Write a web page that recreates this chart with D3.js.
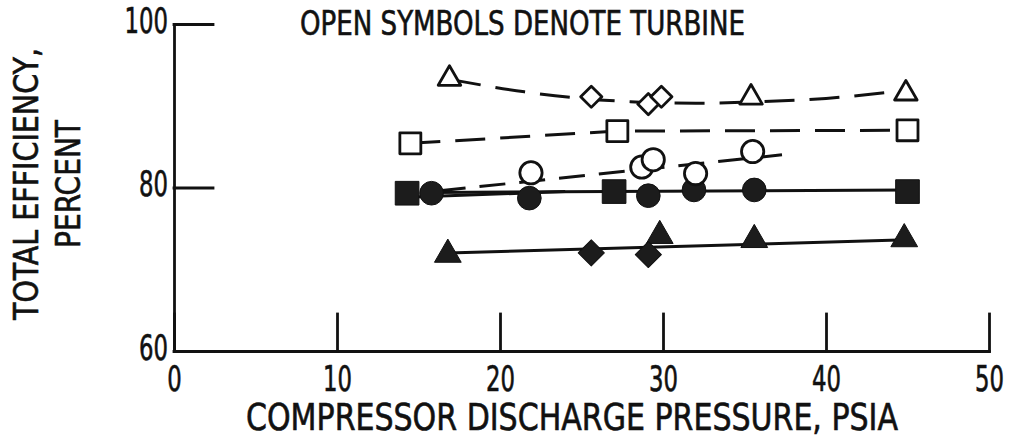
<!DOCTYPE html>
<html>
<head>
<meta charset="utf-8">
<script src="https://cdn.jsdelivr.net/npm/d3@7"></script>
<style>
  body { margin: 0; background: #fff; }
  text { font-family: 'DejaVu Sans Condensed', 'Liberation Sans Narrow', sans-serif; fill: #111; stroke: #111; stroke-width: 0.6px; }
</style>
</head>
<body>
<div id="chart"></div>
<script>
// points (x = psia, y = percent)
const openTriangleX = [16.9, 35.4, 44.9];
const openTriangleY = [93.3, 91.0, 91.5];
const openDiamondX = [25.6, 29.1, 29.9];
const openDiamondY = [91.1, 90.2, 91.1];
const openSquareX = [14.5, 27.2, 45.0];
const openSquareY = [85.4, 86.9, 87.0];
const openCircleX = [21.9, 28.7, 29.4, 32.0, 35.5];
const openCircleY = [81.8, 82.5, 83.4, 81.7, 84.4];

const filledSquareX = [14.3, 27.0, 45.0];
const filledSquareY = [79.3, 79.5, 79.5];
const filledCircleX = [15.8, 21.8, 29.1, 31.9, 35.6];
const filledCircleY = [79.3, 78.7, 79.0, 79.7, 79.7];
const filledTriangleX = [16.8, 29.8, 35.6, 44.8];
const filledTriangleY = [71.8, 74.1, 73.6, 73.7];
const filledDiamondX = [25.6, 29.1];
const filledDiamondY = [72.0, 71.8];

// faired curves drawn on the figure
const dashTopX = [17.0, 21.5, 25.0, 28.0, 32.0, 36.0, 40.0, 45.0];
const dashTopY = [93.2, 91.7, 90.9, 90.5, 90.3, 90.5, 90.9, 91.9];
const dashSquareX = [14.5, 27.2, 45.0];
const dashSquareY = [85.4, 86.9, 87.0];
const dashCircleX = [16.3, 37.3];
const dashCircleY = [79.6, 84.0];
const solidUpperX = [15.8, 45.0];
const solidUpperY = [79.4, 79.7];
const solidLowerX = [14.3, 24.0];
const solidLowerY = [78.8, 79.5];
const solidTriX = [16.8, 45.0];
const solidTriY = [72.0, 73.6];

const xTicks = [0, 10, 20, 30, 40, 50];
const yTicks = [60, 80, 100];

const zip = (xs, ys) => xs.map((x, i) => [x, ys[i]]);

const svg = d3.select('#chart').append('svg')
  .attr('width', 1011)
  .attr('height', 438)

svg.append('rect')
  .attr('width', 1011)
  .attr('height', 438)
  .attr('fill', '#fff')

const x_scale = d3.scaleLinear()
  .domain([0, 50])
  .range([174, 989])

const y_scale = d3.scaleLinear()
  .domain([60, 100])
  .range([351, 24])

const xAxis = svg.append('g')
  .attr('transform', 'translate(0,351)')
  .call(d3.axisBottom(x_scale).tickValues(xTicks).tickSize(-37).tickSizeOuter(0).tickPadding(15))

const yAxis = svg.append('g')
  .attr('transform', 'translate(174,0)')
  .call(d3.axisLeft(y_scale).tickValues(yTicks).tickSize(-39).tickSizeOuter(0).tickPadding(6))

svg.selectAll('.domain, .tick line')
  .attr('stroke', '#111')
  .attr('stroke-width', 2.8)
  .attr('stroke-linecap', 'square')

// digits in the figure are narrow: about 14.5px each
svg.selectAll('.tick text')
  .style('font-size', '35px')
  .attr('fill', '#111')
  .attr('textLength', (d) => String(d).length * 14.5)
  .attr('lengthAdjust', 'spacingAndGlyphs')

yAxis.selectAll('.tick text')
  .attr('dy', '0.24em')

const line = d3.line()
  .x((d) => x_scale(d[0]))
  .y((d) => y_scale(d[1]))

const curve = d3.line()
  .curve(d3.curveMonotoneX)
  .x((d) => x_scale(d[0]))
  .y((d) => y_scale(d[1]))

const lines = svg.append('g')
  .attr('fill', 'none')
  .attr('stroke', '#111')
  .attr('stroke-width', 3)

lines.append('path').attr('d', curve(zip(dashTopX, dashTopY))).attr('stroke-dasharray', '30,15')
lines.append('path').attr('d', line(zip(dashSquareX, dashSquareY))).attr('stroke-dasharray', '30,15')
lines.append('path').attr('d', line(zip(dashCircleX, dashCircleY))).attr('stroke-dasharray', '26,14')
lines.append('path').attr('d', line(zip(solidUpperX, solidUpperY)))
lines.append('path').attr('d', line(zip(solidLowerX, solidLowerY)))
lines.append('path').attr('d', line(zip(solidTriX, solidTriY)))

const drawSymbols = (xs, ys, type, size, filled, rotate) => {
  svg.append('g').selectAll('path')
    .data(zip(xs, ys))
    .enter()
    .append('path')
    .attr('d', d3.symbol().type(type).size(size))
    .attr('transform', (d) => 'translate(' + x_scale(d[0]) + ',' + y_scale(d[1]) + ')' + (rotate ? ' rotate(45)' : ''))
    .attr('fill', filled ? '#1c1c1c' : '#fff')
    .attr('stroke', '#111')
    .attr('stroke-width', filled ? 1 : 2.8)
    .attr('stroke-linejoin', 'round')
}

drawSymbols(filledSquareX, filledSquareY, d3.symbolSquare, 560, true)
drawSymbols(filledCircleX, filledCircleY, d3.symbolCircle, 440, true)
drawSymbols(filledTriangleX, filledTriangleY, d3.symbolTriangle, 310, true)
drawSymbols(filledDiamondX, filledDiamondY, d3.symbolSquare, 340, true, true)

drawSymbols(openSquareX, openSquareY, d3.symbolSquare, 440, false)
drawSymbols(openCircleX, openCircleY, d3.symbolCircle, 390, false)
drawSymbols(openTriangleX, openTriangleY, d3.symbolTriangle, 220, false)
drawSymbols(openDiamondX, openDiamondY, d3.symbolSquare, 225, false, true)

svg.append('text')
  .attr('x', 300)
  .attr('y', 35)
  .attr('textLength', 445)
  .attr('lengthAdjust', 'spacingAndGlyphs')
  .style('font-size', '33px')
  .text('OPEN SYMBOLS DENOTE TURBINE')

svg.append('text')
  .attr('x', 246)
  .attr('y', 430)
  .attr('textLength', 652)
  .attr('lengthAdjust', 'spacingAndGlyphs')
  .style('font-size', '37px')
  .text('COMPRESSOR DISCHARGE PRESSURE, PSIA')

svg.append('text')
  .attr('transform', 'translate(38,184) rotate(-90)')
  .attr('text-anchor', 'middle')
  .attr('textLength', 272)
  .attr('lengthAdjust', 'spacingAndGlyphs')
  .style('font-size', '34px')
  .text('TOTAL EFFICIENCY,')

svg.append('text')
  .attr('transform', 'translate(80,184) rotate(-90)')
  .attr('text-anchor', 'middle')
  .attr('textLength', 128)
  .attr('lengthAdjust', 'spacingAndGlyphs')
  .style('font-size', '34px')
  .text('PERCENT')
</script>
</body>
</html>
